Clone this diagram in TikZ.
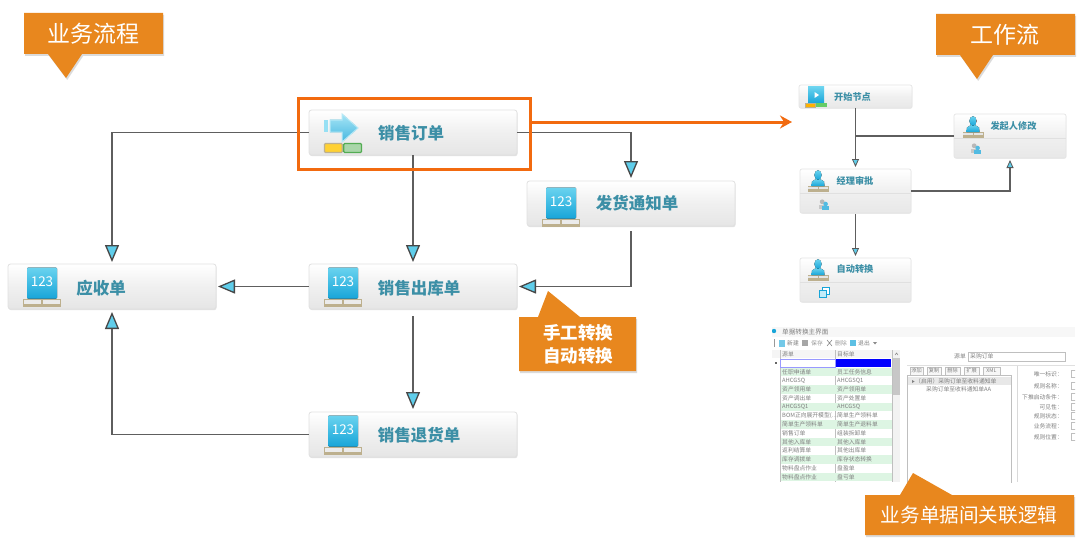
\documentclass[tikz,border=0pt]{standalone}
\usepackage{fontspec}
\setmainfont{Noto Sans CJK SC}
\usetikzlibrary{arrows.meta,shadows}
\definecolor{orA}{HTML}{E8871E}
\definecolor{orB}{HTML}{F26A0F}
\definecolor{tealT}{HTML}{3C8FA6}
\definecolor{lineC}{HTML}{5E5E5E}
\definecolor{tipC}{HTML}{5FCDEA}
\definecolor{tanC}{HTML}{BDB08E}
\definecolor{blueT}{HTML}{6AD3EF}
\definecolor{blueB}{HTML}{18A5D8}
\definecolor{rowG}{HTML}{DDF5E3}
\definecolor{shotT}{HTML}{808080}
\tikzset{
  card/.style={draw=black!12,line width=.8pt,rounded corners=2.5pt,top color=white,bottom color=black!10,middle color=black!6,inner sep=0pt,outer sep=0pt,minimum width=208pt,minimum height=45pt,drop shadow={shadow xshift=.6pt,shadow yshift=-1.2pt,opacity=.22}},
  wfcard/.style={draw=black!10,line width=.7pt,rounded corners=2pt,top color=white,bottom color=black!9,middle color=black!6,inner sep=0pt,outer sep=0pt,minimum width=111pt,minimum height=44pt,drop shadow={shadow xshift=.4pt,shadow yshift=-.8pt,opacity=.15}},
  lab/.style={text=tealT,font=\fontsize{16.5}{17}\selectfont\bfseries,inner sep=0pt},
  wflab/.style={text=tealT,font=\fontsize{9.2}{10}\selectfont\bfseries,inner sep=0pt},
  calltext/.style={text=white,inner sep=0pt,align=center},
  callfill/.style={fill=orA,drop shadow={shadow xshift=1.2pt,shadow yshift=-2pt,opacity=.28}},
  flow/.style={draw=lineC,line width=1.8pt,-{Triangle[length=17pt,width=14pt,fill=tipC,color=black!72,line width=1.3pt]}},
  wfflow/.style={draw=lineC,line width=1.1pt,-{Triangle[length=8pt,width=7pt,fill=tipC,color=black!65,line width=.8pt]}},
  plain/.style={draw=lineC,line width=1.1pt},
  shot/.style={text=shotT,font=\fontsize{5.8}{6}\selectfont,inner sep=0pt},
  pics/ic123/.style={code={
    \fill[tanC] (-19,15.5) rectangle (19,23.5);
    \fill[white!92!black] (-18,16.5) rectangle (-.8,20.5);
    \fill[white!92!black] (.8,16.5) rectangle (18,20.5);
    \fill[top color=blueT,bottom color=blueB,rounded corners=1pt] (-15,-15.5) rectangle (15,15.5);
    \node[text=white,font=\fontsize{13.5}{14}\selectfont,inner sep=0pt] at (0,-1.5) {123};
  }},
  pics/icarrow/.style={code={
    \fill[blueT!70!white] (-19,-13) rectangle (-15,-1);
    \fill[top color=blueT!60!white,bottom color=blueB!80!white,draw=blueT!50!white,line width=1pt] (-13,-13) -- (-1,-13) -- (-1,-19) -- (15,-5) -- (-1,9) -- (-1,-1) -- (-13,-1) -- cycle;
    \fill[draw=tanC,line width=1.2pt,fill=orange!45!yellow!80!white,rounded corners=1pt] (-18.5,10.5) rectangle (-.7,19.5);
    \fill[draw=green!35!gray,line width=1.2pt,fill=green!35!gray!50!white,rounded corners=1pt] (.7,10.5) rectangle (18.5,19.5);
  }},
  pics/icstart/.style={code={
    \fill[top color=blueT,bottom color=blueB] (-8,-8) rectangle (8,8);
    \fill[white] (-1.5,-3) -- (3,0) -- (-1.5,3) -- cycle;
    \fill[orange!60!yellow,draw=tanC,line width=.5pt] (-10.5,8.5) rectangle (-.3,12.5);
    \fill[green!50!gray!80!white] (.3,8.5) rectangle (10.5,12.5);
  }},
  pics/icperson/.style={code={
    \fill[tanC] (-10.5,7.5) rectangle (10.5,13.5);
    \fill[white!90!black] (-10,8.5) rectangle (-.5,11);
    \fill[white!90!black] (.5,8.5) rectangle (10,11);
    \fill[top color=blueT,bottom color=blueB] (-6.5,8) -- (-6,3.5) -- (-2,1) -- (2,1) -- (6,3.5) -- (6.5,8) -- cycle;
    \fill[top color=blueT,bottom color=blueB] (0,-3) ellipse (3.6 and 4.8);
  }},
  pics/icusers/.style={code={
    \fill[black!28] (-1.8,-2.2) circle (2.4);
    \fill[black!22] (-5,5) rectangle (1.5,1);
    \fill[blueB!75!white] (1.6,0) circle (2.3);
    \fill[blueB!75!white] (-1.6,5.5) rectangle (5,2.4);
  }},
  pics/icwin/.style={code={
    \draw[blueB,line width=.8pt,fill=white] (-2,-5) rectangle (5,2);
    \draw[blueB,line width=.8pt,fill=blueT!40!white] (-5,-2) rectangle (2,5);
  }}
}
\begin{document}
\begin{tikzpicture}[x=1pt,y=-1pt]
\useasboundingbox[fill=white] (0,0) rectangle (1080,551);

% ---- main business-flow cards
\node[card] (xsdd) at (413,132.5) {};
\node[card] (fhtz) at (631,203.5) {};
\node[card] (ysd)  at (112,286.5) {};
\node[card] (xsck) at (413,286.5) {};
\node[card] (xsth) at (413,434.5) {};
\pic at (343,133) {icarrow};
\pic at (561,203) {ic123};
\pic at (42,283) {ic123};
\pic at (343,283) {ic123};
\pic at (343,431) {ic123};
\node[lab] at (411,133) {销售订单};
\node[lab] at (637,203.5) {发货通知单};
\node[lab] at (101,288) {应收单};
\node[lab] at (419,288) {销售出库单};
\node[lab] at (419,435) {销售退货单};

% ---- main connectors
\draw[flow,shorten >=2pt] (xsdd.west) -| (ysd.north);
\draw[flow,shorten >=3pt] (xsdd.east) -| (fhtz.north);
\draw[flow,shorten >=2pt] (xsdd.south) -- (xsck.north);
\draw[flow,shorten >=2pt,shorten <=5pt] (fhtz.south) |- (xsck.east);
\draw[flow,shorten >=2pt] (xsck.west) -- (ysd.east);
\draw[flow,shorten >=3pt,shorten <=7pt] (xsck.south) -- (xsth.north);
\draw[flow,shorten >=3pt] (xsth.west) -| (ysd.south);

% ---- highlight frame and its arrow
\node[draw=orB,line width=3pt,inner sep=0pt,outer sep=0pt,minimum width=232pt,minimum height=70pt] (frame) at (414,134) {};
\coordinate (wfin) at (792,122);
\draw[orB,line width=3pt,-{Stealth[length=12pt,width=13pt,inset=4pt]}] (frame.east |- wfin) -- (wfin);

% ---- callouts
\path[callfill] (24,13) -- (163,13) -- (163,54) -- (82,54) -- (66,78) -- (48,54) -- (24,54) -- cycle;
\node[calltext,font=\fontsize{23}{24}\selectfont] (c1) at (93,33.5) {业务流程};
\path[callfill] (936,14) -- (1075,14) -- (1075,55) -- (993,55) -- (977,79) -- (960,55) -- (936,55) -- cycle;
\node[calltext,font=\fontsize{23}{24}\selectfont] (c2) at (1005,35) {工作流};
\path[callfill] (519,317) -- (538,317) -- (548,291) -- (580,317) -- (636,317) -- (636,371) -- (519,371) -- cycle;
\node[calltext,font=\fontsize{17.5}{23}\selectfont\bfseries] (c3) at (578,344.5) {手工转换\\自动转换};

% ---- workflow cards
\node[wfcard,minimum width=113pt,minimum height=23pt] (kssd) at (855.5,96.5) {};
\node[wfcard,minimum width=112pt] (fqr) at (1010,136) {};
\node[wfcard] (jlsp) at (855.5,191) {};
\node[wfcard] (zdzh) at (855.5,280) {};
\draw[black!12,line width=.7pt] (fqr.west |- 0,138) -- (fqr.east |- 0,138);
\draw[black!12,line width=.7pt] (jlsp.west |- 0,193) -- (jlsp.east |- 0,193);
\draw[black!12,line width=.7pt] (zdzh.west |- 0,282) -- (zdzh.east |- 0,282);
\pic at (816,95) {icstart};
\pic at (973,124) {icperson};
\pic at (818,178) {icperson};
\pic at (818,267) {icperson};
\pic at (976,148) {icusers};
\pic at (824,204) {icusers};
\pic at (824,292) {icwin};
\node[wflab] at (852.5,97) {开始节点};
\node[wflab] at (1013.5,126) {发起人修改};
\node[wflab] at (855,180.5) {经理审批};
\node[wflab] at (855,269.5) {自动转换};

% ---- workflow connectors
\draw[wfflow,shorten >=2pt] (kssd.south) -- (jlsp.north);
\draw[plain] (fqr.west) -- (fqr.west -| kssd.south);
\draw[wfflow,shorten >=2pt] (jlsp.east) -| (fqr.south);
\draw[wfflow,shorten >=2pt,shorten <=1pt] (jlsp.south) -- (zdzh.north);

% ---- rule-configuration screenshot
\begin{scope}
\clip (772,325) rectangle (1075,482);
\fill[black!3] (772,327) rectangle (1075,337);
\fill[blueB] (774,331) circle (2.2);
\node[shot,anchor=west,font=\fontsize{6.6}{7}\selectfont] at (782,332) {单据转换主界面};
\draw[black!40,line width=.5pt] (774,339) -- (774,347);
\fill[blueB!60!white] (779,339.5) rectangle (785,346.5);
\node[shot,anchor=west] at (787,343) {新建};
\fill[black!35] (802,340) rectangle (808,346);
\node[shot,anchor=west,text=black!40] at (811,343) {保存};
\draw[black!45,line width=.6pt] (827,340) -- (832,346) (832,340) -- (827,346);
\node[shot,anchor=west,text=black!40] at (835,343) {删除};
\fill[blueB!70!white] (850,340) rectangle (856,346);
\node[shot,anchor=west] at (858,343) {退出};
\fill[black!45] (873,342) -- (877,342) -- (875,344.5) -- cycle;
% table
\fill[black!4] (772,350) rectangle (892,358);
\draw[black!25,line width=.4pt] (780,350) -- (780,482) (835.5,350) -- (835.5,482) (892,350) -- (892,482);
\node[shot,anchor=west] at (782,354) {源单};
\node[shot,anchor=west] at (837,354) {目标单};
\fill[black!5] (892.5,350) rectangle (900,482);
\fill[black!22] (893,358) rectangle (900,395);
\draw[black!50,line width=.5pt] (895,355) -- (896.5,353) -- (898,355);
\draw[blue!40!white,line width=.6pt,fill=white] (780.5,359.5) rectangle (835,367);
\fill[blue] (836,359) rectangle (891,367);
\fill[black!60] (775,362) rectangle (777,364);
\foreach \i/\a/\b in {0/任职申请单/员工任务信息,1/AHCGSQ/AHCGSQ1,2/资产领用单/资产领用单,3/资产调出单/资产处置单,4/AHCGSQ1/AHCGSQ,5/BOM正向展开模型(…/简单生产领料单,6/简单生产领料单/简单生产退料单,7/销售订单/组装拆卸单,8/其他入库单/其他入库单,9/返利结算单/其他出库单,10/库存调拨单/库存状态转换,11/物料盘点作业/盘盈单,12/物料盘点作业/盘亏单}{
  \pgfmathparse{int(mod(\i,2))}
  \ifnum\pgfmathresult=0
    \fill[rowG] (780.5,372-4.3+\i*8.75) rectangle (891.5,372+4.3+\i*8.75);
  \fi
  \node[shot,anchor=west] at (782,372+\i*8.75) {\a};
  \node[shot,anchor=west] at (837,372+\i*8.75) {\b};
}
% right pane
\node[shot,anchor=east] at (966,356) {源单};
\draw[black!25,line width=.5pt] (968,352.5) rectangle (1065,361);
\node[shot,anchor=west] at (970,356.5) {采购订单};
\draw[black!12,line width=.5pt] (907,365) -- (1075,365);
\foreach \xa/\xb/\t in {910/923/添加,927/941/复制,945/960/删除,964/979/扩展,983/1000/XML}{
  \draw[black!25,line width=.4pt,fill=black!3] (\xa,367) rectangle (\xb,375);
  \node[shot,font=\fontsize{5.2}{6}\selectfont] at ({(\xa+\xb)/2},371) {\t};
}
\draw[black!25,line width=.5pt] (907.5,375.5) rectangle (1011,490);
\fill[black!9] (908,376.5) rectangle (1010.5,385);
\fill[black!50] (912,380) -- (914.5,381.5) -- (912,383) -- cycle;
\node[shot,anchor=west] at (915,381) {（启用）采购订单至收料通知单};
\node[shot,anchor=west] at (926,389) {采购订单至收料通知单AA};
\draw[black!15,line width=.5pt] (1017,366) -- (1017,482);
\foreach \yy/\t in {374/唯一标识：,386/规则名称：,397/下推启动条件：,407/可见性：,416/规则状态：,426/业务流程：,437/规则位置：}{
  \node[shot,anchor=east] at (1063,\yy) {\t};
  \draw[black!25,line width=.4pt] (1071,\yy-3.5) rectangle (1080,\yy+3.5);
}
\end{scope}

% ---- bottom-right callout, over the screenshot
\path[callfill] (865,495) -- (900,495) -- (913,473) -- (952,495) -- (1074,495) -- (1074,535) -- (865,535) -- cycle;
\node[calltext,font=\fontsize{19.6}{21}\selectfont] (c4) at (969,515.5) {业务单据间关联逻辑};
\end{tikzpicture}
\end{document}
